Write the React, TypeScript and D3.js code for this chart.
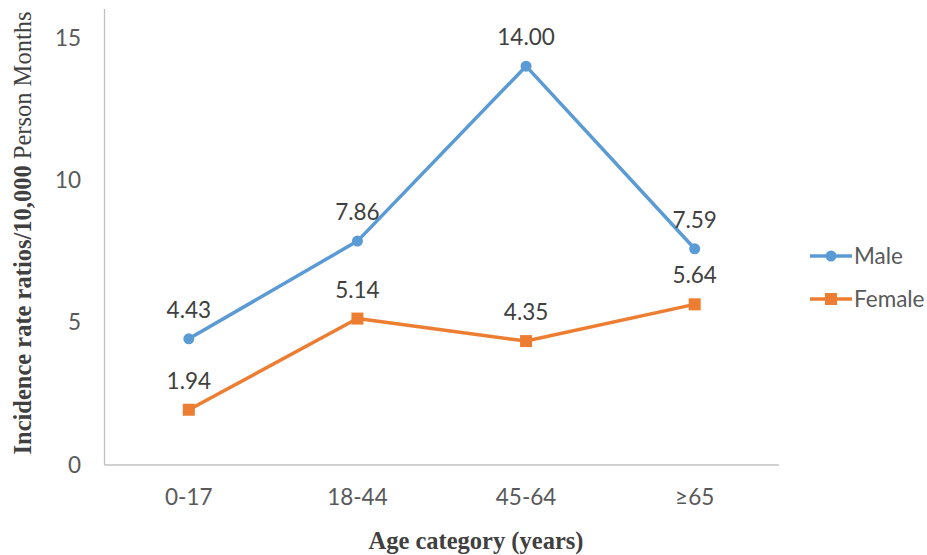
import * as d3 from "d3";
import { useEffect, useRef } from "react";

const categories = ["0-17", "18-44", "45-64", "≥65"];
const male = [4.43, 7.86, 14.0, 7.59];
const female = [1.94, 5.14, 4.35, 5.64];
const yTicks = [0, 5, 10, 15];

const App = () => {
  const ref = useRef<SVGSVGElement>(null);

  useEffect(() => {
    if (ref && ref.current) ref.current.innerHTML = "";

    const width = 927;
    const height = 555;
    const left = 104.5;
    const right = 779;
    const bottom = 465;
    const top = 9;

    const svg = d3.select(ref.current)
      .attr("width", width)
      .attr("height", height)
      .style("display", "block")
      .style("position", "absolute")
      .style("left", 0)
      .style("top", 0)
      .style("background", "#fff");

    const x = d3.scaleBand().domain(categories).range([left, right]);
    const y = d3.scaleLinear().domain([0, 15]).range([bottom, 37.7]);
    const cx = (c) => x(c) + x.bandwidth() / 2;

    const sans = "Lato, 'Open Sans', sans-serif";
    const fs = 22.5;
    const grey = "#595959";

    // axes lines
    svg.append("line")
      .attr("x1", left).attr("x2", left)
      .attr("y1", top).attr("y2", bottom)
      .attr("stroke", "#c0c0c0").attr("stroke-width", 1.3);
    svg.append("line")
      .attr("x1", left).attr("x2", right)
      .attr("y1", bottom).attr("y2", bottom)
      .attr("stroke", "#c0c0c0").attr("stroke-width", 1.3);

    // y tick labels
    svg.append("g").selectAll("text")
      .data(yTicks)
      .join("text")
      .attr("x", 81)
      .attr("y", d => y(d))
      .attr("dy", "0.35em")
      .attr("text-anchor", "end")
      .attr("font-family", sans)
      .attr("font-size", fs)
      .attr("fill", grey)
      .text(d => d);

    // x tick labels
    svg.append("g").selectAll("text")
      .data(categories)
      .join("text")
      .attr("x", d => cx(d))
      .attr("y", 505)
      .attr("text-anchor", "middle")
      .attr("font-family", sans)
      .attr("font-size", fs)
      .attr("fill", grey)
      .text(d => d);

    const series = [
      { name: "Male", values: male, color: "#5B9BD5", shape: "circle" },
      { name: "Female", values: female, color: "#ED7D31", shape: "square" },
    ];

    const line = d3.line<number>()
      .x((d, i) => cx(categories[i]))
      .y(d => y(d));

    series.forEach(s => {
      const g = svg.append("g");
      g.append("path")
        .datum(s.values)
        .attr("d", line)
        .attr("fill", "none")
        .attr("stroke", s.color)
        .attr("stroke-width", 3.5)
        .attr("stroke-linejoin", "round");

      if (s.shape === "circle") {
        g.selectAll("circle")
          .data(s.values)
          .join("circle")
          .attr("cx", (d, i) => cx(categories[i]))
          .attr("cy", d => y(d))
          .attr("r", 5.5)
          .attr("fill", s.color);
      } else {
        g.selectAll("rect")
          .data(s.values)
          .join("rect")
          .attr("x", (d, i) => cx(categories[i]) - 6)
          .attr("y", d => y(d) - 6)
          .attr("width", 12)
          .attr("height", 12)
          .attr("fill", s.color);
      }

      g.selectAll("text")
        .data(s.values)
        .join("text")
        .attr("x", (d, i) => cx(categories[i]))
        .attr("y", d => y(d) - 21)
        .attr("text-anchor", "middle")
        .attr("font-family", sans)
        .attr("font-size", fs)
        .attr("fill", "#404040")
        .text(d => d.toFixed(2));
    });

    // legend
    const legend = svg.append("g");
    series.forEach((s, i) => {
      const ly = 256 + i * 43;
      legend.append("line")
        .attr("x1", 810).attr("x2", 852)
        .attr("y1", ly).attr("y2", ly)
        .attr("stroke", s.color).attr("stroke-width", 3.5);
      if (s.shape === "circle") {
        legend.append("circle").attr("cx", 831).attr("cy", ly).attr("r", 5.5).attr("fill", s.color);
      } else {
        legend.append("rect").attr("x", 825).attr("y", ly - 6).attr("width", 12).attr("height", 12).attr("fill", s.color);
      }
      legend.append("text")
        .attr("x", 854)
        .attr("y", ly)
        .attr("dy", "0.35em")
        .attr("font-family", sans)
        .attr("font-size", fs)
        .attr("fill", grey)
        .text(s.name);
    });

    // axis titles
    const serif = "'Liberation Serif', 'Times New Roman', serif";
    const yt = svg.append("text")
      .attr("transform", `translate(31, 233) rotate(-90)`)
      .attr("text-anchor", "middle")
      .attr("font-family", serif)
      .attr("font-size", 24.5)
      .attr("fill", "#404040");
    yt.append("tspan").attr("font-weight", "bold").text("Incidence rate ratios/10,000");
    yt.append("tspan").text(" Person Months");

    svg.append("text")
      .attr("x", 476)
      .attr("y", 549)
      .attr("text-anchor", "middle")
      .attr("font-family", serif)
      .attr("font-size", 24.5)
      .attr("font-weight", "bold")
      .attr("fill", "#404040")
      .text("Age category (years)");
  }, []);

  return <svg ref={ref} />;
};

export default App;
